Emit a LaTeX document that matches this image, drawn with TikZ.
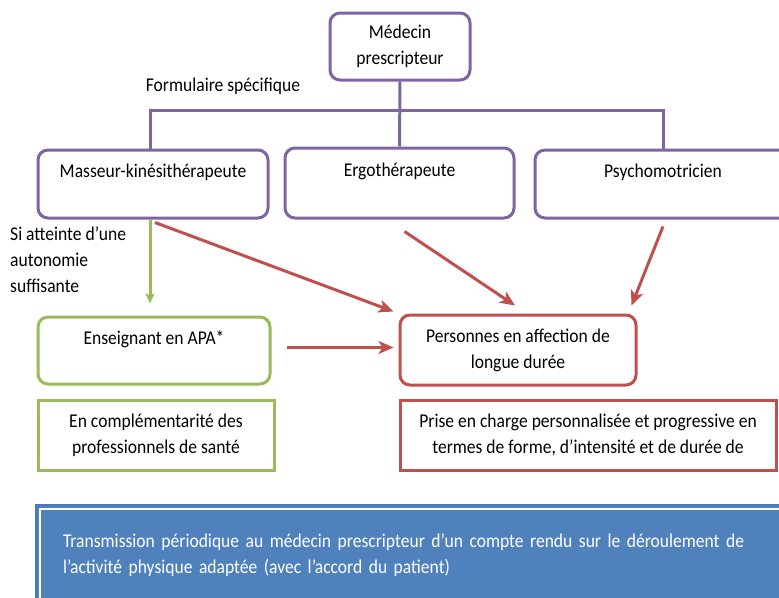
\documentclass[tikz,border=0pt]{standalone}
\usepackage{fontspec}
\setmainfont{Carlito}[FakeStretch=0.9]
\usetikzlibrary{arrows.meta}
\definecolor{apapurple}{HTML}{8064A2}
\definecolor{apagreen}{HTML}{9BBB59}
\definecolor{apared}{HTML}{C0504D}
\definecolor{apablue}{HTML}{4F81BD}
\definecolor{apablueline}{HTML}{4A7AB3}

\begin{document}
\begin{tikzpicture}[x=1pt,y=-1pt,font=\fontsize{19.5}{26}\selectfont,
  every node/.style={inner sep=0pt,align=center},
  roundbox/.style={draw,line width=3pt,rounded corners=10pt},
  flatbox/.style={draw,line width=3pt},
  tree/.style={apapurple,line width=3pt},
  redarrow/.style={apared,line width=3pt,-{Stealth[length=15pt,width=13pt,inset=4pt]}},
  greenarrow/.style={apagreen,line width=3pt,-{Stealth[length=10pt,width=9pt,inset=2pt]}}]
  \useasboundingbox (0,0) rectangle (779,597);
  \clip (0,0) rectangle (779,597);

  % prescriber and the three therapists
  \node[roundbox,draw=apapurple,minimum width=140,minimum height=67] (med)
    at (400,46.5) {Médecin\\prescripteur};
  \node (form) at (223,86) {Formulaire spécifique};
  \node[roundbox,draw=apapurple,minimum width=230,minimum height=68] (mass)
    at (153,184) {Masseur-kinésithérapeute\\~};
  \node[roundbox,draw=apapurple,minimum width=229,minimum height=70] (ergo)
    at (399.5,183) {Ergothérapeute\\~};
  \node[roundbox,draw=apapurple,minimum width=256,minimum height=68] (psy)
    at (663,184) {Psychomotricien\\~};

  \coordinate (split) at (400,110);
  \draw[tree] (med.south) -- (ergo.north);
  \draw[tree] ([xshift=-3pt]mass.north) |- (split) -| (psy.north);

  % APA teacher and patients
  \node[anchor=north west,align=left] (auto) at (10,227)
    {Si atteinte d’une\\autonomie\\suffisante};
  \node[roundbox,draw=apagreen,minimum width=232,minimum height=67] (ens)
    at (154,350.5) {Enseignant en APA*\\~};
  \node[roundbox,draw=apared,minimum width=236,minimum height=70] (pers)
    at (518,350) {Personnes en affection de\\longue durée};
  \node[flatbox,draw=apagreen,minimum width=236,minimum height=70] (compl)
    at (156,435) {En complémentarité des\\professionnels de santé};
  \node[flatbox,draw=apared,minimum width=376,minimum height=70] (prise)
    at (588,435) {Prise en charge personnalisée et progressive en\\termes de forme, d’intensité et de durée de};

  \coordinate (ensout) at ([yshift=3pt]ens.east);
  \draw[greenarrow] ([xshift=-3pt]mass.south) -- ([xshift=-4pt,yshift=12pt]ens.north);
  \draw[redarrow] ([xshift=2pt,yshift=-3pt]mass.south) -- ([xshift=-5pt,yshift=2pt]pers.north west);
  \draw[redarrow] ([xshift=5pt,yshift=-12pt]ergo.south) -- ([xshift=-3pt,yshift=8pt]pers.north);
  \draw[redarrow] ([yshift=-7pt]psy.south) -- ([xshift=-6pt,yshift=8pt]pers.north east);
  \draw[redarrow,shorten <=15pt,shorten >=5pt] (ensout) -- (pers.west |- ensout);

  % report to the prescriber
  \node[fill=apablue,draw=apablueline,line width=2pt,minimum width=754,
    minimum height=100,text=white,align=left,text width=700] (transm) at (413,555)
    {Transmission périodique au médecin prescripteur d’un compte rendu sur le déroulement de\\
     l’activité physique adaptée (avec l’accord du patient)};
  \draw[white,line width=1.2pt] ([xshift=5pt,yshift=-5pt]transm.north west)
    rectangle ([xshift=-5pt,yshift=5pt]transm.south east);
\end{tikzpicture}
\end{document}
